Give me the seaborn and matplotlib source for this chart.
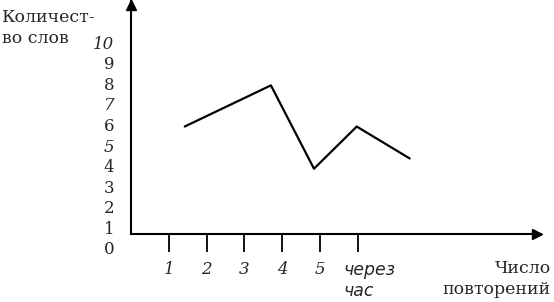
import matplotlib
matplotlib.use("Agg")
import matplotlib.pyplot as plt
import matplotlib.transforms as mtransforms
import seaborn as sns
import pandas as pd

# Data
line_x = [1.42, 3.7, 4.84, 5.97, 7.37]
line_y = [5.9, 7.9, 3.85, 5.9, 4.35]
y_ticks = list(range(11))
y_tick_labels = [str(v) for v in y_ticks]
y_italic = ["10", "7", "5"]
x_ticks = [1, 2, 3, 4, 5, 6]
x_tick_labels = ["1", "2", "3", "4", "5", "через\nчас"]
y_title = "Количест-\nво слов"
x_title = "Число\nповторений"

sns.set_style("white")
plt.rcParams["font.family"] = ["DejaVu Serif"]

df = pd.DataFrame({"x": line_x, "y": line_y})

fig = plt.figure(figsize=(5.54, 3.02), dpi=100)
ax = fig.add_axes([0.2365, 0.1517, 0.7329, 0.845])

sns.lineplot(data=df, x="x", y="y", sort=False, color="black", linewidth=1.6, ax=ax)

ax.set_xlim(0, 10.74)
ax.set_ylim(-0.4, 12.0)

axis_y = 0.7
for s in ["top", "right"]:
    ax.spines[s].set_visible(False)
ax.spines["bottom"].set_position(("data", axis_y))
ax.spines["left"].set_bounds(axis_y, 12.0)
for s in ["bottom", "left"]:
    ax.spines[s].set_color("black")
    ax.spines[s].set_linewidth(1.5)

# arrowheads
ax.plot([1], [axis_y], marker=">", color="black", markersize=7,
        transform=ax.get_yaxis_transform(), clip_on=False)
ax.plot([0], [0.985], marker="^", color="black", markersize=7,
        transform=ax.get_xaxis_transform(), clip_on=False)

ax.set_yticks(y_ticks)
ax.set_yticklabels(y_tick_labels)
ax.tick_params(axis="y", length=0, pad=12, labelsize=12, left=False)
for lab in ax.get_yticklabels():
    if lab.get_text() in y_italic:
        lab.set_style("italic")

ax.set_xticks(x_ticks)
ax.set_xticklabels(x_tick_labels)
ax.tick_params(axis="x", direction="out", length=13, width=1.3, pad=7,
               labelsize=12, bottom=True, color="black")
for lab in ax.get_xticklabels():
    lab.set_style("italic")
    if "\n" in lab.get_text():
        lab.set_fontsize(12.5)
        lab.set_family(["DejaVu Sans"])
        lab.set_multialignment("left")
        lab.set_va("top")
        lab.set_transform(lab.get_transform() +
                          mtransforms.ScaledTranslation(12 / 100, 0, fig.dpi_scale_trans))

ax.set_xlabel(x_title, fontsize=12.5, ha="right", va="top", multialignment="right",
              linespacing=1.3)
ax.xaxis.set_label_coords(1.034, -0.015)
ax.set_ylabel(y_title, fontsize=12.5, rotation=0, ha="left", va="top", multialignment="left",
              linespacing=1.35)
ax.yaxis.set_label_coords(-0.318, 0.97)

ax.grid(False)
fig.savefig("out.png", dpi=100)
